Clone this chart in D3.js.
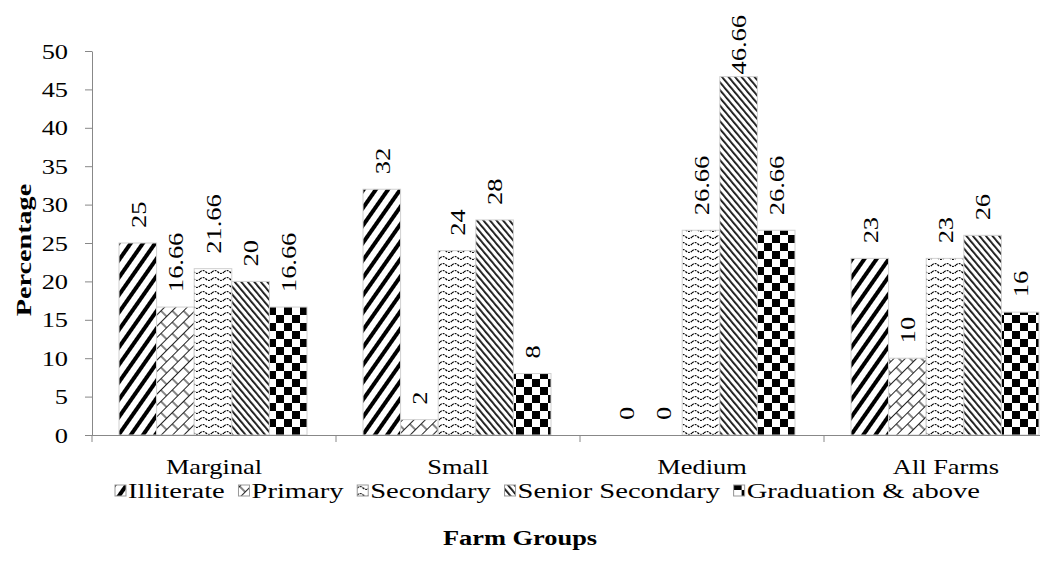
<html>
<head>
  <script src="https://d3js.org/d3.v7.min.js"></script>
  <style>
    body { margin: 0; background: #fff; }
    svg text { font-family: "Times New Roman", "Liberation Serif", serif; fill: #000; }
  </style>
</head>
<body>
<svg id="chart" width="1054" height="561" font-family="Liberation Serif"></svg>
<script>
  const groups = ["Marginal", "Small", "Medium", "All Farms"];
  const levels = ["Illiterate", "Primary", "Secondary", "Senior Secondary", "Graduation & above"];
  const illiterate = [25, 32, 0, 23];
  const primary = [16.66, 2, 0, 10];
  const secondary = [21.66, 24, 26.66, 23];
  const seniorSecondary = [20, 28, 46.66, 26];
  const graduation = [16.66, 8, 26.66, 16];
  const yTicks = [0, 5, 10, 15, 20, 25, 30, 35, 40, 45, 50];

  const series = [illiterate, primary, secondary, seniorSecondary, graduation];

  const svg = d3.select("#chart");
  const margin = { top: 51, left: 92 };
  const chartWidth = 976;
  const chartHeight = 384;
  const stretch = 1.2;
  const FONT = "'Liberation Serif', 'Times New Roman', serif";

  // patterns
  const defs = svg.append("defs");
  const p1 = defs.append("pattern").attr("id", "pat0").attr("patternUnits", "userSpaceOnUse")
    .attr("width", 10).attr("height", 10).attr("patternTransform", "rotate(35)");
  p1.append("rect").attr("width", 10).attr("height", 10).attr("fill", "#fff");
  p1.append("rect").attr("width", 4).attr("height", 10).attr("fill", "#000");

  const p2 = defs.append("pattern").attr("id", "pat1").attr("patternUnits", "userSpaceOnUse")
    .attr("width", 16).attr("height", 16).attr("patternTransform", "rotate(-45)");
  p2.append("rect").attr("width", 16).attr("height", 16).attr("fill", "#fff");
  p2.append("path").attr("d", "M0,0.5H16M0,8.5H16M1,0.5V8.5M9,8.5V16.5")
    .attr("stroke", "#222").attr("stroke-width", 1.1).attr("fill", "none");

  const p3 = defs.append("pattern").attr("id", "pat2").attr("patternUnits", "userSpaceOnUse")
    .attr("width", 12).attr("height", 7);
  p3.append("rect").attr("width", 12).attr("height", 7).attr("fill", "#fff");
  p3.append("path").attr("d", "M0,4 Q3,1 6,4 T12,4")
    .attr("stroke", "#000").attr("stroke-width", 1.2).attr("stroke-dasharray", "2,1").attr("fill", "none");

  const p4 = defs.append("pattern").attr("id", "pat3").attr("patternUnits", "userSpaceOnUse")
    .attr("width", 5).attr("height", 5).attr("patternTransform", "rotate(-40)");
  p4.append("rect").attr("width", 5).attr("height", 5).attr("fill", "#fff");
  p4.append("rect").attr("width", 1.8).attr("height", 5).attr("fill", "#111");

  const p5 = defs.append("pattern").attr("id", "pat4").attr("patternUnits", "userSpaceOnUse")
    .attr("width", 16).attr("height", 16);
  p5.append("rect").attr("width", 16).attr("height", 16).attr("fill", "#fff");
  p5.append("rect").attr("width", 8).attr("height", 8).attr("fill", "#000");
  p5.append("rect").attr("x", 8).attr("y", 8).attr("width", 8).attr("height", 8).attr("fill", "#000");

  const xScale = d3.scaleBand().domain(groups).range([0, chartWidth]);
  const inner = d3.scaleBand().domain(levels).range([27, 27 + 188]);
  const yScale = d3.scaleLinear().domain([0, 50]).range([chartHeight, 0]);

  const chartArea = svg.append("g").attr("transform", `translate(${margin.left},${margin.top})`);

  // y axis
  const yAxis = chartArea.append("g").call(d3.axisLeft(yScale).tickValues(yTicks).tickSize(7).tickSizeOuter(0));
  yAxis.attr("font-family", null);
  yAxis.selectAll("text").style("font-size", "22px").style("font-family", FONT)
    .attr("x", -24 / stretch).attr("transform", `scale(${stretch},1)`);
  yAxis.selectAll("line, path").attr("stroke", "#888");

  // bars
  const data = [];
  groups.forEach((g, gi) => levels.forEach((l, li) => data.push({ group: g, level: l, li: li, value: series[li][gi] })));

  chartArea.selectAll("rect.bar").data(data).join("rect")
    .attr("class", "bar")
    .attr("x", d => xScale(d.group) + inner(d.level))
    .attr("y", d => yScale(d.value))
    .attr("width", inner.bandwidth())
    .attr("height", d => chartHeight - yScale(d.value))
    .attr("fill", d => `url(#pat${d.li})`)
    .attr("stroke", d => d.value > 0 ? "#d0d0d0" : "none")
    .attr("stroke-width", 1);

  // value labels, rotated; pushed down when they would leave the plot
  chartArea.selectAll("text.val").data(data).join("text")
    .attr("class", "val")
    .style("font-size", "22px").style("font-family", FONT)
    .attr("dy", "0.35em")
    .text(d => d.value)
    .each(function (d) {
      const len = this.getComputedTextLength() * stretch;
      let start = yScale(d.value) - 15;
      if (start - len < -36) start = -36 + len;
      d3.select(this).attr("transform",
        `translate(${xScale(d.group) + inner(d.level) + inner.bandwidth() / 2},${start}) rotate(-90) scale(${stretch},1)`);
    });

  // x axis
  const xAxis = chartArea.append("g").attr("transform", `translate(0,${chartHeight})`)
    .call(d3.axisBottom(xScale).tickSize(0).tickSizeOuter(0));
  xAxis.attr("font-family", null);
  xAxis.select(".domain").attr("stroke", "#888").attr("d", "M0,0.5H948");
  xAxis.selectAll("text").style("font-size", "22px").style("font-family", FONT)
    .attr("y", 0).attr("dy", null).attr("transform", `translate(0,39) scale(${stretch},1)`);
  chartArea.append("g").selectAll("line").data(groups).join("line")
    .attr("x1", d => xScale(d)).attr("x2", d => xScale(d))
    .attr("y1", chartHeight).attr("y2", chartHeight + 7)
    .attr("stroke", "#888");

  // axis titles
  svg.append("text").attr("transform", `translate(31,250) rotate(-90) scale(1.28,1)`)
    .attr("text-anchor", "middle").style("font-size", "22px").style("font-weight", "bold")
    .style("font-family", FONT).text("Percentage");
  svg.append("text").attr("transform", `translate(520,545) scale(${stretch},1)`)
    .attr("text-anchor", "middle").style("font-size", "22px").style("font-weight", "bold")
    .style("font-family", FONT).text("Farm Groups");

  // legend spread between x=115 and x=980
  const legendStretch = 1.3;
  const legend = svg.append("g").attr("transform", "translate(0,498)");
  const items = levels.map((l, i) => {
    const item = legend.append("g");
    item.append("rect").attr("x", 0).attr("y", -13).attr("width", 11).attr("height", 11)
      .attr("fill", `url(#pat${i})`).attr("stroke", "#999");
    const t = item.append("text").attr("transform", `translate(13,0) scale(${legendStretch},1)`)
      .style("font-size", "22px").style("font-family", FONT).text(l);
    return { item, w: 13 + t.node().getComputedTextLength() * legendStretch };
  });
  const total = d3.sum(items, d => d.w);
  const gap = (865 - total) / (items.length - 1);
  let lx = 115;
  items.forEach(d => { d.item.attr("transform", `translate(${lx},0)`); lx += d.w + gap; });
</script>
</body>
</html>
